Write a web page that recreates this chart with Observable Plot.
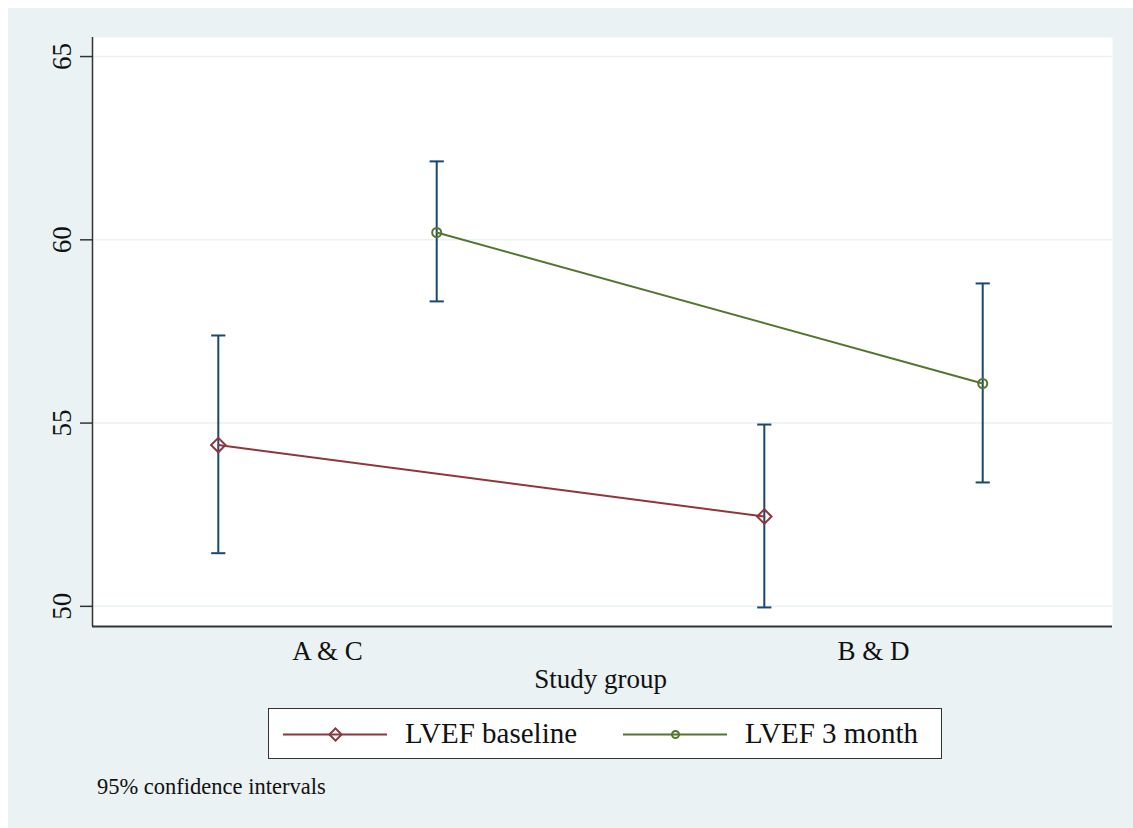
<!DOCTYPE html>
<html>
<head>
<meta charset="utf-8">
<script src="https://cdn.jsdelivr.net/npm/d3@7"></script>
<script src="https://cdn.jsdelivr.net/npm/@observablehq/plot@0.6"></script>
<style>
  html, body { margin: 0; padding: 0; background: #ffffff; }
  #fig { position: absolute; left: 8px; top: 8px; width: 1125px; height: 820px; background: #eaf2f3; font-family: "Liberation Serif", "Times New Roman", serif; }
  #chart { position: absolute; left: 0; top: 0; }
  #legend { position: absolute; left: 260px; top: 700px; width: 672px; height: 49px; background: #fff; border: 1.5px solid #333; }
  .item { position: absolute; top: 0; height: 49px; display: flex; align-items: center; }
  .item span { font-size: 29px; color: #111; margin-left: 18px; }
  #caption { position: absolute; left: 89px; top: 766px; font-size: 22.5px; color: #111; }
</style>
</head>
<body>
<div id="fig">
  <div id="chart"></div>
  <div id="legend"></div>
  <div id="caption">95% confidence intervals</div>
</div>
<script>
// ---- data ----
const groups = ["A & C", "B & D"];
const seriesNames = ["LVEF baseline", "LVEF 3 month"];
const baselineMean  = [54.40, 52.45];
const baselineLower = [51.45, 49.97];
const baselineUpper = [57.39, 54.96];
const month3Mean    = [60.20, 56.08];
const month3Lower   = [58.32, 53.38];
const month3Upper   = [62.14, 58.81];
const yTicks = [50, 55, 60, 65];

const colors = ["#90353b", "#55752f"];
const ciColor = "#1a476f";
const symbols = ["diamond2", "circle"];
const markerR = [6.5, 4.5];
const offsets = [-0.2, 0.2];

const rows = [];
[[baselineMean, baselineLower, baselineUpper], [month3Mean, month3Lower, month3Upper]].forEach((s, si) => {
  groups.forEach((g, gi) => {
    rows.push({series: seriesNames[si], si, group: g, x: gi + 1 + offsets[si], mean: s[0][gi], lo: s[1][gi], hi: s[2][gi]});
  });
});

const capHalf = 0.013;
const font = "Liberation Serif, Times New Roman, serif";

const chart = Plot.plot({
  width: 1125,
  height: 700,
  marginLeft: 84,
  marginRight: 21,
  marginTop: 29,
  marginBottom: 82,
  style: {background: "transparent", fontFamily: font},
  x: {domain: [0.5696, 2.4377], axis: null},
  y: {domain: [49.45, 65.52], axis: null},
  marks: [
    Plot.frame({fill: "#ffffff", stroke: null}),
    Plot.ruleY(yTicks, {stroke: "#eaf2f3", strokeWidth: 1.5}),
    // axis lines
    Plot.ruleX([0.5696], {stroke: "#333", strokeWidth: 1.5}),
    Plot.ruleY([49.45], {stroke: "#333", strokeWidth: 2}),
    Plot.axisY({ticks: yTicks, tickSize: 12, tickFormat: () => "", stroke: "#333", strokeWidth: 1.5, label: null}),
    Plot.text(yTicks, {y: d => d, text: d => String(d), frameAnchor: "left", dx: -22, rotate: -90, textAnchor: "middle", lineAnchor: "bottom", fontSize: 27, fill: "#111", fontFamily: font}),
    Plot.text(groups, {x: (d, i) => i + 1, text: d => d, frameAnchor: "bottom", dy: 25, lineAnchor: "middle", fontSize: 27, fill: "#111", fontFamily: font}),
    Plot.text(["Study group"], {x: 1.5, text: d => d, frameAnchor: "bottom", dy: 53, lineAnchor: "middle", fontSize: 27, fill: "#111", fontFamily: font}),
    // confidence intervals
    Plot.ruleX(rows, {x: "x", y1: "lo", y2: "hi", stroke: ciColor, strokeWidth: 2}),
    Plot.link(rows, {x1: d => d.x - capHalf, x2: d => d.x + capHalf, y1: "lo", y2: "lo", stroke: ciColor, strokeWidth: 2}),
    Plot.link(rows, {x1: d => d.x - capHalf, x2: d => d.x + capHalf, y1: "hi", y2: "hi", stroke: ciColor, strokeWidth: 2}),
    // lines
    Plot.line(rows, {x: "x", y: "mean", z: "series", stroke: d => colors[d.si], strokeWidth: 2}),
    // markers (one mark per series so the radius stays constant)
    ...seriesNames.map((name, si) =>
      Plot.dot(rows.filter(d => d.si === si), {x: "x", y: "mean", symbol: symbols[si], r: markerR[si], stroke: colors[si], strokeWidth: 2, fill: "none"})
    )
  ]
});
document.getElementById("chart").appendChild(chart);

// ---- legend ----
const legend = document.getElementById("legend");
const itemLeft = [14, 354];
seriesNames.forEach((name, i) => {
  const item = document.createElement("div");
  item.className = "item";
  item.style.left = itemLeft[i] + "px";
  const sw = Plot.plot({
    width: 104, height: 20, margin: 0,
    x: {domain: [0, 1], axis: null}, y: {domain: [0, 1], axis: null},
    style: {background: "transparent"},
    marks: [
      Plot.ruleY([0.5], {x1: 0, x2: 1, stroke: colors[i], strokeWidth: 2}),
      Plot.dot([0.5], {x: d => d, y: 0.5, symbol: symbols[i], r: i === 0 ? 5.5 : 3.5, stroke: colors[i], strokeWidth: 2, fill: "none"})
    ]
  });
  item.appendChild(sw);
  const label = document.createElement("span");
  label.textContent = name;
  item.appendChild(label);
  legend.appendChild(item);
});
</script>
</body>
</html>
